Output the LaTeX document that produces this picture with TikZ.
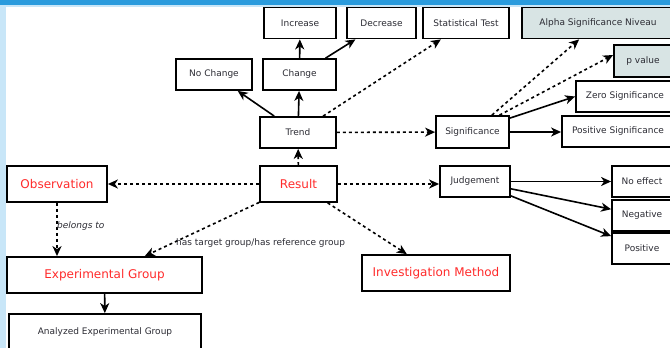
\documentclass[tikz,border=0pt]{standalone}
\usepackage{fontspec}
\setmainfont{DejaVu Sans}
\usetikzlibrary{arrows.meta}
\definecolor{txtgray}{HTML}{2B2B33}
\definecolor{redlbl}{HTML}{FF2A2A}
\definecolor{niveaufill}{HTML}{D8E4E4}
\definecolor{barblue}{HTML}{2A9BDD}
\definecolor{stripblue}{HTML}{C8E6F8}
\begin{document}
\begin{tikzpicture}[x=1pt,y=-1pt,>={Stealth[length=10pt,width=9pt,inset=3pt]},
    box/.style={draw,line width=1.8pt,inner sep=0pt,minimum height=31pt,
      text=txtgray,font=\fontsize{9}{10}\selectfont},
    bigbox/.style={box,minimum height=36pt,text=redlbl,font=\fontsize{12}{14}\selectfont},
    shaded/.style={box,fill=niveaufill},
    link/.style={->,line width=1.6pt},
    dlink/.style={link,dash pattern=on 3pt off 3pt},
    lbl/.style={anchor=west,inner sep=0pt,text=txtgray,font=\fontsize{9}{10}\selectfont}]
    \useasboundingbox (0,0) rectangle (670,348);
    \clip (0,0) rectangle (670,348);
    % frame of the window
    \fill[stripblue] (0,0) rectangle (6,348); \fill[stripblue] (0,0) rectangle (670,7);
    \fill[barblue] (0,0) rectangle (670,5);
    % top row
    \node (incr) at (300,23) [box,minimum width=72pt] {Increase}; \node (decr) at
    (381.5,23) [box,minimum width=69pt] {Decrease}; \node (stattest) at (466,23)
    [box,minimum width=86pt] {Statistical Test};
    \node (alpha) at (598,23) [shaded,minimum width=152pt] {Alpha Significance Niveau};
    \node (pval) at (643,61) [shaded,minimum width=58pt,minimum height=32pt] {p value};
    \node (nochange) at (214,74.5) [box,minimum width=76pt] {No Change}; \node (change)
    at (299.5,74.5) [box,minimum width=73pt] {Change};
    \node (zero) at (625,96.5) [box,minimum width=98pt] {Zero Significance};
    \node (trend) at (298,132.5) [box,minimum width=76pt] {Trend}; \node (sig) at
    (472.5,132) [box,minimum width=73pt,minimum height=32pt] {Significance};
    \node (possig) at (618,131.5) [box,minimum width=112pt] {Positive Significance};
    % middle row
    \node (obs) at (57,184) [bigbox,minimum width=100pt] {Observation}; \node (result)
    at (298.5,184) [bigbox,minimum width=77pt] {Result}; \node (judge) at (475,181.5)
    [box,minimum width=70pt] {Judgement};
    \node (noeff) at (642,181.5) [box,minimum width=60pt] {No effect};
    \node (neg) at (642,215.5) [box,minimum width=60pt] {Negative};
    \node (pos) at (642,248.5) [box,minimum width=60pt] {Positive};
    % bottom
    \node (expgrp) at (104.5,275) [bigbox,minimum width=195pt] {Experimental Group};
    \node (invest) at (436,273) [bigbox,minimum width=148pt] {Investigation Method};
    \node (analyzed) at (105,332) [box,minimum width=192pt,minimum height=36pt]
    {Analyzed Experimental Group};
    % connectors
    \draw[link] (trend) -- (nochange); \draw[link] (trend) -- (change);
    \draw[link] (change) -- (incr); \draw[link] (change) -- (decr);
    \draw[dlink] (trend) -- (stattest); \draw[dlink] (trend) -- (sig);
    \draw[dlink] (sig) -- (alpha);
    \draw[dlink] ([xshift=27pt]sig.north) -- ([yshift=6pt]pval.west);
    \draw[link] ([yshift=-3pt]sig.north east) -- (zero.west);
    \draw[link] (sig) -- (sig -| possig.west);
    \draw[dlink] (result) -- (trend); \draw[dlink] (result) -- (obs);
    \draw[dlink] (result.east) -- (result.east -| judge.west);
    \draw[dlink] (result) -- (expgrp); \draw[dlink] (result) -- (invest);
    \draw[dlink] (obs) -- (obs |- expgrp.north); \draw[link] (expgrp) -- (analyzed);
    \draw[link] (judge) -- (noeff); \draw[link] (judge) -- (neg);
    \draw[link] (judge) -- (pos);
    \node (belongs) at (57,226) [lbl,font=\fontsize{9}{10}\itshape] {belongs to};
    \node (hastarget) at (176,243) [lbl] {has target group/has reference group};
\end{tikzpicture}
\end{document}
